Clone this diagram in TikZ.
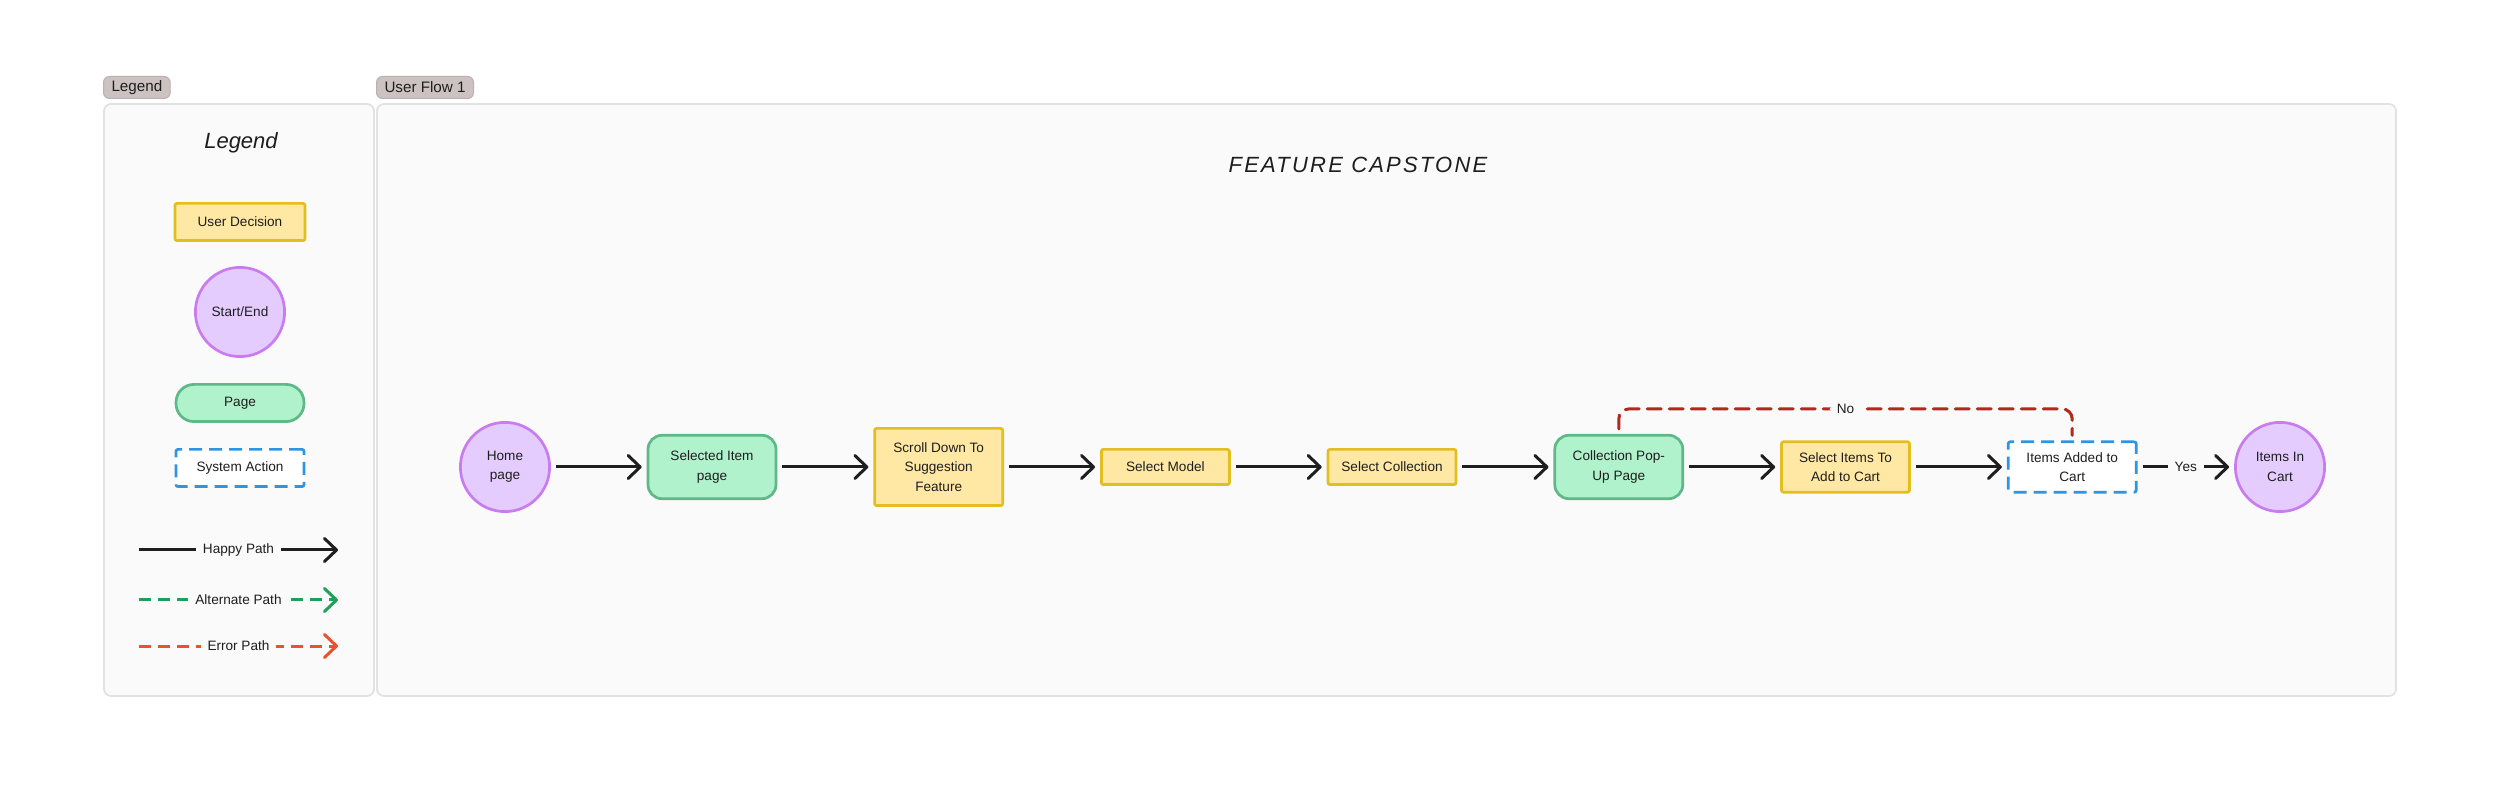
\documentclass[tikz,border=0pt]{standalone}
\usepackage{fontspec}
\setmainfont{Liberation Sans}
\usetikzlibrary{arrows.meta}
\definecolor{panelbg}{RGB}{250,250,250}
\definecolor{panelline}{RGB}{226,226,226}
\definecolor{tabfill}{RGB}{205,194,194}
\definecolor{tabline}{RGB}{188,176,176}
\definecolor{inkdark}{RGB}{30,30,30}
\definecolor{decfill}{RGB}{255,232,163}
\definecolor{decline}{RGB}{226,190,32}
\definecolor{sefill}{RGB}{229,204,255}
\definecolor{seline}{RGB}{200,124,240}
\definecolor{pagefill}{RGB}{176,242,204}
\definecolor{pageline}{RGB}{94,184,135}
\definecolor{sysline}{RGB}{44,150,228}
\definecolor{altgreen}{RGB}{30,160,90}
\definecolor{errorange}{RGB}{232,82,46}
\definecolor{nored}{RGB}{176,40,30}

\begin{document}
\begin{tikzpicture}[x=0.5pt,y=-0.5pt,font=\fontsize{6.8}{9.7}\selectfont,text=inkdark,
  panel/.style={fill=panelbg,draw=panelline,line width=0.9pt,rounded corners=3.5pt},
  tab/.style={fill=tabfill,draw=tabline,line width=0.5pt,rounded corners=3pt,anchor=north west,
    minimum height=11pt,inner xsep=4pt,inner ysep=0pt,font=\fontsize{7.6}{9}\selectfont},
  box/.style={line width=1.35pt,align=center,minimum width=64pt,inner sep=0pt},
  decision/.style={box,fill=decfill,draw=decline,rounded corners=1pt},
  page/.style={box,fill=pagefill,draw=pageline,rounded corners=7pt},
  sysaction/.style={box,fill=white,draw=sysline,dash pattern=on 6.5pt off 3.5pt,rounded corners=1pt},
  startend/.style={circle,fill=sefill,draw=seline,line width=1.35pt,minimum size=44.6pt,align=center,inner sep=0pt},
  happy/.style={line width=1.5pt,draw=inkdark,-{Straight Barb[length=6pt,width=11.5pt,round]}},
  alternate/.style={happy,draw=altgreen,dash pattern=on 6pt off 3.5pt},
  errorpath/.style={happy,draw=errorange,dash pattern=on 6pt off 3.5pt},
  flow/.style={happy,shorten <=2.5pt,shorten >=2.5pt},
  nopath/.style={line width=1.5pt,draw=nored,dash pattern=on 7pt off 4pt,line cap=round,
    rounded corners=5pt,shorten <=2.5pt,shorten >=2.5pt},
  lbl/.style={fill=panelbg,inner xsep=3.5pt,inner ysep=1pt},
  hand/.style={font=\fontsize{11}{13}\selectfont\itshape}]
\fill[white] (0,0) rectangle (2500,801);
\useasboundingbox (0,0) rectangle (2500,801);

% frames
\draw[panel] (104,104) rectangle (374,696);
\draw[panel] (377,104) rectangle (2396,696);
\node[tab] (legtab) at (103,76) {Legend};
\node[tab] (flowtab) at (376,76) {User Flow 1};

% legend
\node[hand] (legtitle) at (241,143) {Legend};
\node[decision,minimum width=65pt,minimum height=18.6pt] (legdec) at (240,222) {User Decision};
\node[startend] (legse) at (240,312) {Start/End};
\node[page,minimum height=18.6pt,rounded corners=9pt] (legpage) at (240,403) {Page};
\node[sysaction,minimum height=18.6pt] (legsys) at (240,468) {System Action};
\foreach \yy/\sty/\txt/\nm in {550/happy/Happy Path/hp,600/alternate/Alternate Path/ap,646/errorpath/Error Path/ep}{
  \coordinate (\nm-a) at (139,\yy); \coordinate (\nm-b) at (338,\yy);
  \draw[\sty] (\nm-a) -- node[lbl]{\txt} (\nm-b);
}

% user flow
\node[hand,font=\fontsize{11}{13}\selectfont\itshape\addfontfeatures{LetterSpace=10}] (flowtitle) at (1358,165) {FEATURE CAPSTONE};
\node[startend] (home) at (505,467) {Home\\page};
\node[page,minimum height=31.7pt] (selitem) at (712,467) {Selected Item\\page};
\node[decision,minimum height=38.6pt] (scroll) at (938.7,467) {Scroll Down To\\Suggestion\\Feature};
\node[decision,minimum height=17.6pt] (model) at (1165.4,467) {Select Model};
\node[decision,minimum height=17.6pt] (coll) at (1392,467) {Select Collection};
\node[page,minimum height=31.7pt] (popup) at (1618.8,467) {Collection Pop-\\Up Page};
\node[decision,minimum height=25.2pt] (selcart) at (1845.5,467) {Select Items To\\Add to Cart};
\node[sysaction,minimum height=25.2pt] (added) at (2072.2,467) {Items Added to\\Cart};
\node[startend] (incart) at (2280,467) {Items In\\Cart};

\draw[flow] (home) -- (selitem);
\draw[flow] (selitem) -- (scroll);
\draw[flow] (scroll) -- (model);
\draw[flow] (model) -- (coll);
\draw[flow] (coll) -- (popup);
\draw[flow] (popup) -- (selcart);
\draw[flow] (selcart) -- (added);
\draw[flow] (added) -- node[lbl]{Yes} (incart);
\draw[nopath] (popup.north) -- ++(0,-25) -| node[pos=0.25,lbl]{No} (added.north);
\end{tikzpicture}
\end{document}
